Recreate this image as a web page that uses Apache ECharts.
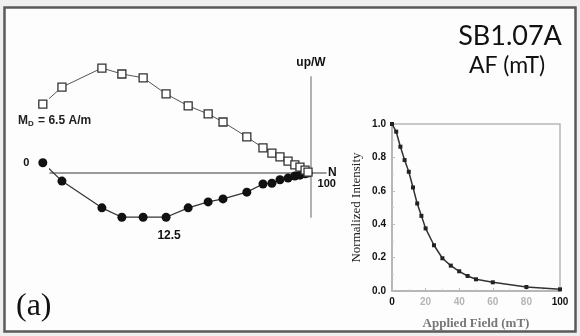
<!DOCTYPE html>
<html>
<head>
<meta charset="utf-8">
<script src="https://cdn.jsdelivr.net/npm/echarts@6/dist/echarts.min.js"></script>
<style>
  html, body { margin: 0; padding: 0; background: #efefef; }
  #chart { width: 580px; height: 336px; }
</style>
</head>
<body>
<div id="chart"></div>
<script>
// AF demagnetization steps (mT)
const afSteps = [0, 2.5, 5, 7.5, 10, 12.5, 15, 17.5, 20, 25, 30, 35, 40, 45, 50, 60, 80, 100];

// Orthogonal vector components (A/m)
const northComp = [-6.31, -5.86, -4.92, -4.45, -3.95, -3.41, -2.89, -2.42, -2.07, -1.51, -1.13, -0.92, -0.73, -0.54, -0.38, -0.26, -0.14, -0.07];
const upComp    = [1.62, 2.02, 2.47, 2.33, 2.24, 1.86, 1.58, 1.39, 1.20, 0.85, 0.59, 0.47, 0.38, 0.28, 0.19, 0.14, 0.07, 0.02];
const westComp  = [0.24, -0.19, -0.82, -1.04, -1.04, -1.04, -0.82, -0.68, -0.61, -0.45, -0.26, -0.24, -0.16, -0.12, -0.07, -0.05, -0.02, 0.00];

// Demagnetization curve
const appliedField = [0, 2.5, 5, 7.5, 10, 12.5, 15, 17.5, 20, 25, 30, 35, 40, 45, 50, 60, 80, 100];
const normIntensity = [1.0, 0.954, 0.864, 0.784, 0.714, 0.62, 0.524, 0.45, 0.375, 0.274, 0.196, 0.152, 0.118, 0.09, 0.07, 0.052, 0.024, 0.01];

// Vector plot geometry: origin in pixels and pixels per A/m (equal scale on both axes)
const zij = { left: 50, top: 77, width: 276, height: 140, ox: 311, oy: 173, ppu: 42.5 };
const zxMin = (zij.left - zij.ox) / zij.ppu;
const zxMax = (zij.left + zij.width - zij.ox) / zij.ppu;
const zyMax = (zij.oy - zij.top) / zij.ppu;
const zyMin = (zij.oy - (zij.top + zij.height)) / zij.ppu;

const upData = northComp.map((n, i) => [n, upComp[i]]);
const westData = northComp.map((n, i) => {
  const item = { value: [n, westComp[i]] };
  const step = afSteps[i];
  if (step === 0) {
    item.label = { show: true, position: 'left', distance: 9 };
  } else if (step === 12.5) {
    item.label = { show: true, position: 'bottom', distance: 8, offset: [3, 0], fontSize: 12 };
  } else if (step === 100) {
    item.label = { show: true, position: 'right', distance: 5, offset: [0, 11] };
  }
  return item;
});
const curveData = appliedField.map((f, i) => [f, normIntensity[i]]);

const chart = echarts.init(document.getElementById('chart'), null, { renderer: 'canvas' });

const option = {
  backgroundColor: '#efefef',
  animation: false,
  grid: [
    { left: zij.left, top: zij.top, width: zij.width, height: zij.height, outerBoundsMode: 'none' },
    { left: 392, top: 124, width: 168, height: 167, outerBoundsMode: 'none',
      show: true, borderColor: '#b8b8b8', borderWidth: 1.5, backgroundColor: 'transparent' }
  ],
  xAxis: [
    {
      gridIndex: 0, type: 'value', min: zxMin, max: zxMax,
      axisLine: { onZero: true, lineStyle: { color: '#7a7a7a', width: 1.5 } },
      axisTick: { show: false }, axisLabel: { show: false }, splitLine: { show: false },
      name: 'N', nameLocation: 'end', nameGap: 2,
      nameTextStyle: { color: '#111', fontFamily: 'Liberation Sans', fontWeight: 'bold', fontSize: 12, padding: [0, 0, 13, 0] }
    },
    {
      gridIndex: 1, type: 'value', min: 0, max: 100, interval: 20,
      axisLine: { lineStyle: { color: '#b0b0b0', width: 1.5 } },
      axisTick: { show: true, inside: true, length: 3, lineStyle: { color: '#bbb' } },
      minorTick: { show: true, splitNumber: 2, length: 2, lineStyle: { color: '#ccc' } },
      splitLine: { show: false },
      axisLabel: {
        margin: 6,
        formatter: v => (v === 0 || v === 100) ? '{d|' + v + '}' : '{f|' + v + '}',
        rich: {
          d: { color: '#111', fontFamily: 'Liberation Sans', fontWeight: 'bold', fontSize: 10 },
          f: { color: '#b5b5b5', fontFamily: 'Liberation Sans', fontWeight: 'bold', fontSize: 10 }
        }
      },
      name: 'Applied Field (mT)', nameLocation: 'middle', nameGap: 26,
      nameTextStyle: { color: '#777', fontFamily: 'Liberation Serif', fontWeight: 'bold', fontSize: 13 }
    }
  ],
  yAxis: [
    {
      gridIndex: 0, type: 'value', min: zyMin, max: zyMax,
      axisLine: { onZero: true, lineStyle: { color: '#b0b0b0', width: 2 } },
      axisTick: { show: false }, axisLabel: { show: false }, splitLine: { show: false },
      name: 'up/W', nameLocation: 'end', nameGap: 8,
      nameTextStyle: { color: '#111', fontFamily: 'Liberation Sans', fontWeight: 'bold', fontSize: 12, align: 'center' }
    },
    {
      gridIndex: 1, type: 'value', min: 0, max: 1, interval: 0.2,
      axisLine: { lineStyle: { color: '#b0b0b0', width: 1.5 } },
      axisTick: { show: true, inside: true, length: 3, lineStyle: { color: '#bbb' } },
      minorTick: { show: true, splitNumber: 2, length: 2, lineStyle: { color: '#ccc' } },
      splitLine: { show: false },
      axisLabel: {
        margin: 6, color: '#111', fontFamily: 'Liberation Sans', fontWeight: 'bold', fontSize: 10,
        formatter: v => v.toFixed(1)
      },
      name: 'Normalized Intensity', nameLocation: 'middle', nameGap: 29, nameRotate: 90,
      nameTextStyle: { color: '#222', fontFamily: 'Liberation Serif', fontSize: 13 }
    }
  ],
  series: [
    {
      name: 'up', type: 'line', xAxisIndex: 0, yAxisIndex: 0, clip: false, z: 4,
      data: upData,
      symbol: 'rect', symbolSize: 8,
      itemStyle: { color: '#fff', borderColor: '#333', borderWidth: 1.3 },
      lineStyle: { color: '#555', width: 1 }
    },
    {
      name: 'west', type: 'line', xAxisIndex: 0, yAxisIndex: 0, clip: false, z: 3,
      data: westData,
      symbol: 'circle', symbolSize: 9,
      itemStyle: { color: '#111' },
      lineStyle: { color: '#333', width: 1.2 },
      label: {
        show: false, color: '#111', fontFamily: 'Liberation Sans', fontWeight: 'bold', fontSize: 11,
        formatter: p => String(afSteps[p.dataIndex])
      }
    },
    {
      name: 'intensity', type: 'line', xAxisIndex: 1, yAxisIndex: 1, clip: false, z: 4,
      data: curveData,
      symbol: 'rect', symbolSize: 4,
      itemStyle: { color: '#222' },
      lineStyle: { color: '#333', width: 1.5 }
    }
  ],
  graphic: [
    {
      type: 'rect', z: -10, silent: true,
      shape: { x: 4.5, y: 7.5, width: 571, height: 324 },
      style: { fill: '#fdfdfd', stroke: '#5a5a5a', lineWidth: 2.5 }
    },
    {
      type: 'text', left: 18, top: 115, silent: true,
      style: {
        text: '{m|M}{s|D}{m| = 6.5 A/m}',
        rich: {
          m: { fontFamily: 'Liberation Sans', fontWeight: 'bold', fontSize: 12, fill: '#222' },
          s: { fontFamily: 'Liberation Sans', fontWeight: 'bold', fontSize: 8, fill: '#222', padding: [6, 1, 0, 0] }
        }
      }
    },
    {
      type: 'text', x: 510, y: 36, silent: true,
      style: { text: 'SB1.07A', fontFamily: 'Lato', fontSize: 27, fill: '#111', align: 'center', verticalAlign: 'middle' }
    },
    {
      type: 'text', x: 507, y: 66, silent: true,
      style: { text: 'AF (mT)', fontFamily: 'Lato', fontSize: 23, fill: '#111', align: 'center', verticalAlign: 'middle' }
    },
    {
      type: 'text', x: 16, y: 307, silent: true,
      style: { text: '(a)', fontFamily: 'Liberation Serif', fontSize: 32, fill: '#111', align: 'left', verticalAlign: 'middle' }
    }
  ]
};

chart.setOption(option);
</script>
</body>
</html>
